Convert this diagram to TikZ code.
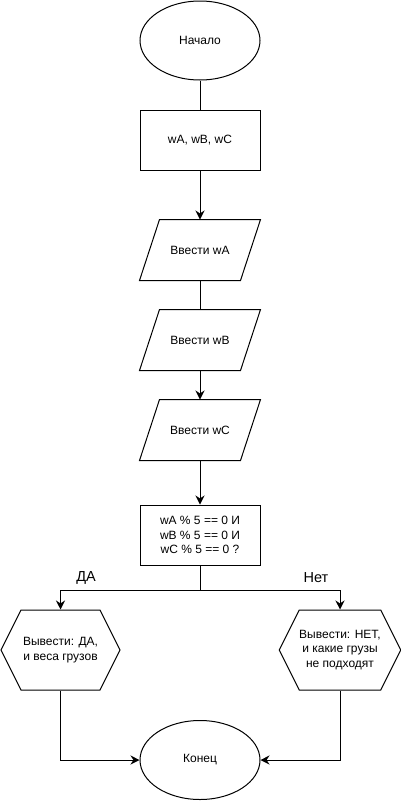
\documentclass[tikz,border=0pt]{standalone}
\usepackage{fontspec}
\setmainfont{Liberation Sans}
\usetikzlibrary{shapes.geometric,shapes.symbols,arrows.meta}

\begin{document}
\begin{tikzpicture}[x=1pt,y=-1pt,line width=1pt,>={Stealth[length=9pt,width=9pt]},
  font=\fontsize{12}{14.4}\selectfont,
  term/.style={shape=ellipse,draw,minimum width=120pt,minimum height=79pt,inner sep=0pt},
  proc/.style={shape=rectangle,draw,minimum width=120pt,minimum height=60pt,inner sep=0pt,align=center},
  io/.style={shape=rectangle,minimum width=100pt,minimum height=60pt,inner sep=0pt},
  outp/.style={shape=signal,draw,signal to=east and west,signal pointer angle=126.87,
    minimum width=119pt,minimum height=80pt,inner sep=0pt,align=center},
  lbl/.style={font=\fontsize{14.5}{16}\selectfont}]
\useasboundingbox (0,0) rectangle (401,801);
\node (start) at (200, 40.5) [term] {Начало};
\node  (init) at (200, 140) [proc] {wA, wB, wC};
\node   (inA) at (200, 250) [io] {Ввести wA};
\node   (inB) at (200, 340) [io] {Ввести wB};
\node   (inC) at (200, 430) [io] {Ввести wC};
\node  (cond) at (200, 535) [proc] {wA \% 5 == 0 И\\wB \% 5 == 0 И\\wC \% 5 == 0 ?};
\coordinate (split) at (200, 590);
\node   (yes) at (60.5, 650) [outp] {Вывести: ДА,\\и веса грузов};
\node    (no) at (340, 650) [outp] {Вывести: НЕТ,\\и какие грузы\\не подходят};
\node   (end) at (200, 760) [term] {Конец};
\node    (da) at (86, 578) [lbl] {ДА};
\node   (net) at (316, 578) [lbl] {Нет};
% parallelograms round the input nodes
\foreach \n in {inA,inB,inC}
  \draw ([xshift=-10pt]\n.south west) -- ([xshift=10pt]\n.north west)
     -- ([xshift=10pt]\n.north east) -- ([xshift=-10pt]\n.south east) -- cycle;
\draw      (start) -- (init);
\draw [->]  (init) -- (inA);
\draw        (inA) -- (inB);
\draw [->]   (inB) -- (inC);
\draw [->]   (inC) -- (cond);
\draw       (cond) -- (split);
\draw [->] (split) -| (yes);
\draw [->] (split) -| (no);
\draw [->]   (yes) |- (end);
\draw [->]    (no) |- (end);
\end{tikzpicture}
\end{document}
